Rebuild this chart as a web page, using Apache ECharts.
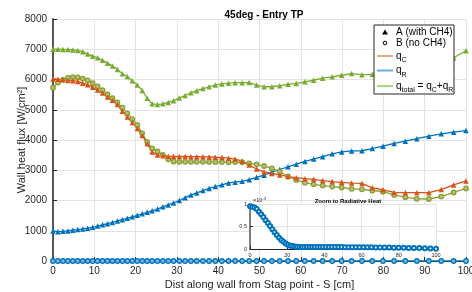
<!DOCTYPE html>
<html>
<head>
<meta charset="utf-8">
<script src="https://cdn.jsdelivr.net/npm/echarts@6/dist/echarts.min.js"></script>
<style>
  html, body { margin: 0; padding: 0; background: #fff; }
  #chart { width: 472px; height: 292px; }
</style>
</head>
<body>
<div id="chart"></div>
<script>
// distance along wall [cm]
var S = [0, 1.2, 2.4, 3.6, 4.8, 6.0, 7.2, 8.4, 9.6, 10.8, 12.0, 13.2, 14.4, 15.6, 16.8, 18.0, 19.2, 20.4, 21.6, 22.8,
  24.0, 25.3, 26.6, 27.9, 29.2, 30.6, 32.0, 33.4, 34.8, 36.3, 37.8, 39.3, 40.9, 42.5, 44.1, 45.8, 47.5, 49.3, 51.1, 53.0,
  54.9, 56.9, 58.9, 61.0, 63.1, 65.3, 67.6, 69.9, 72.3, 74.8, 77.3, 79.9, 82.6, 85.3, 88.1, 91.0, 94.0, 97.0, 100];

// A (with CH4)
var qC_A = [6020, 6010, 5990, 5970, 5960, 5935, 5880, 5825, 5745, 5650, 5550, 5420, 5310, 5170, 4950, 4760, 4580, 4380, 4150, 3880,
  3600, 3505, 3480, 3465, 3460, 3455, 3455, 3450, 3450, 3445, 3440, 3430, 3420, 3400, 3370, 3300, 3170, 3040, 2945, 2895,
  2845, 2790, 2755, 2720, 2700, 2660, 2625, 2600, 2575, 2565, 2420, 2355, 2265, 2260, 2260, 2260, 2360, 2515, 2645];
var qR_A = [990, 970, 980, 995, 1020, 1040, 1060, 1085, 1115, 1155, 1195, 1235, 1275, 1325, 1365, 1410, 1460, 1510, 1560, 1610,
  1660, 1715, 1790, 1855, 1920, 2000, 2095, 2180, 2250, 2330, 2400, 2460, 2520, 2580, 2605, 2635, 2690, 2765, 2835, 2935,
  3025, 3115, 3200, 3290, 3370, 3450, 3545, 3605, 3640, 3645, 3715, 3795, 3885, 3960, 4045, 4125, 4205, 4260, 4310];
var qT_A = [7000, 7000, 6995, 6990, 6975, 6955, 6920, 6840, 6770, 6715, 6635, 6540, 6450, 6330, 6190, 6100, 5960, 5820, 5640, 5380,
  5200, 5170, 5195, 5240, 5300, 5390, 5470, 5560, 5630, 5700, 5760, 5815, 5855, 5880, 5895, 5895, 5900, 5815, 5760, 5760,
  5795, 5840, 5870, 5925, 5975, 6045, 6090, 6140, 6195, 6160, 6170, 6220, 6300, 6360, 6400, 6430, 6530, 6720, 6950];

// B (no CH4)
var qT_B = [5730, 5900, 5990, 6055, 6080, 6070, 6030, 5970, 5880, 5770, 5645, 5510, 5380, 5240, 5070, 4880, 4690, 4500, 4220, 3940,
  3720, 3620, 3510, 3360, 3290, 3280, 3280, 3280, 3280, 3280, 3275, 3275, 3270, 3265, 3270, 3265, 3225, 3195, 3140, 3060,
  2950, 2795, 2680, 2590, 2535, 2495, 2460, 2430, 2385, 2370, 2330, 2290, 2185, 2110, 2055, 2050, 2130, 2265, 2400];
var qR_B = [0.00095, 0.00094, 0.00092, 0.00089, 0.00083, 0.00077, 0.00071, 0.00064, 0.00058, 0.00051, 0.00044, 0.00037, 0.00031, 0.00025, 0.00020, 0.00016, 0.00012, 0.000095, 0.000075, 0.000064,
  0.000056, 0.00005, 0.000047, 0.000046, 0.000045, 0.000045, 0.000045, 0.000045, 0.000045, 0.000045, 0.000045, 0.000044, 0.000044, 0.000044, 0.000043, 0.000043, 0.000042, 0.000042, 0.000041, 0.000041,
  0.00004, 0.00004, 0.00004, 0.000039, 0.000038, 0.000037, 0.000036, 0.000035, 0.000033, 0.000031, 0.00003, 0.000028, 0.000026, 0.000025, 0.000022, 0.00002, 0.000015, 0.00001, 0.000005];

var xTicks = [0, 10, 20, 30, 40, 50, 60, 70, 80, 90, 100];
var yTicks = [0, 1000, 2000, 3000, 4000, 5000, 6000, 7000, 8000];

var txtColor = "#262626", gridColor = "#e3e3e3",
  cOrange = "#d95319", cBlue = "#0072bd", cGreen = "#77ac30", cOlive = "#8c9d33",
  font = "Liberation Sans, Arial, sans-serif";

function pairs(ys){
  return S.map(function (s, i) { return [s, ys[i]]; });
}

function lineSeries(name, ys, color, symbol, fill){
  return {
    name: name, type: "line", xAxisIndex: 0, yAxisIndex: 0,
    data: pairs(ys), symbol: symbol, symbolSize: symbol === "circle" ? 4.5 : 5.5, showSymbol: true,
    lineStyle: {color: color, width: 1.3},
    itemStyle: {color: fill || color, borderColor: color, borderWidth: symbol === "circle" ? 1.3 : 0},
    animation: false, z: 2
  };
}

// legend drawn by hand (icons are marker / line samples, not data)
function legendGraphic(){
  var lx = 374, ly = 25, items = [];
  items.push({type: "rect", shape: {x: lx, y: ly, width: 80, height: 69}, style: {fill: "#fff", stroke: "#262626", lineWidth: 1}, z: 10});
  items.push({type: "polygon", shape: {points: [[385, 29.5], [388, 34.5], [382, 34.5]]}, style: {fill: "#000"}, z: 11});
  items.push({type: "circle", shape: {cx: 385, cy: 43, r: 1.8}, style: {fill: "none", stroke: "#000", lineWidth: 1}, z: 11});
  [[56, "#f0a284"], [70.5, "#6cadde"], [86, "#add67b"]].forEach(function (d) {
    items.push({type: "line", shape: {x1: 377, y1: d[0], x2: 393, y2: d[0]}, style: {stroke: d[1], lineWidth: 2}, z: 11});
  });
  var rich = {
    n: {fontSize: 10, fontFamily: font, color: txtColor, lineHeight: 14, verticalAlign: "middle"},
    s: {fontSize: 7, fontFamily: font, color: txtColor, lineHeight: 14, verticalAlign: "bottom", padding: [0, 0, -1, 0]}
  };
  var texts = [
    [32, "{n|A (with CH4)}"],
    [43, "{n|B (no CH4)}"],
    [56, "{n|q}{s|C}"],
    [70.5, "{n|q}{s|R}"],
    [86, "{n|q}{s|total}{n| = q}{s|C}{n|+q}{s|R}"]
  ];
  texts.forEach(function (t) {
    items.push({type: "text", x: 396, y: t[0], style: {text: t[1], rich: rich, verticalAlign: "middle", align: "left"}, z: 11});
  });
  // inset exponent label
  items.push({type: "text", x: 253, y: 200, style: {text: "×10{sup|-3}", verticalAlign: "middle",
    rich: {sup: {fontSize: 4, fontFamily: font, color: txtColor, verticalAlign: "top", padding: [0, 0, 3, 0]}},
    fontSize: 5.5, fontFamily: font, fill: txtColor}, z: 11});
  return items;
}

var chartDom = echarts.init(document.getElementById("chart"));

var option = {
  backgroundColor: "#fff",
  animation: false,
  textStyle: {fontFamily: font},
  title: [
    {text: "45deg - Entry TP", left: 259, top: 5, textAlign: "center",
      textStyle: {fontSize: 10, fontWeight: "bold", color: "#000", fontFamily: font}},
    {text: "Zoom to Radiative Heat", left: 343, top: 193, textAlign: "center",
      textStyle: {fontSize: 6, fontWeight: "bold", color: "#000", fontFamily: font}}
  ],
  grid: [
    {left: 53, right: 6, top: 19, bottom: 31, containLabel: false, outerBoundsMode: "none"},
    {left: 250, width: 186, top: 204, height: 45, show: true, backgroundColor: "#fff", borderWidth: 0, z: 5,
      containLabel: false, outerBoundsMode: "none"}
  ],
  xAxis: [
    {
      type: "value", gridIndex: 0, min: 0, max: 100, interval: 10,
      name: "Dist along wall from Stag point - S [cm]", nameLocation: "middle", nameGap: 18, nameMoveOverlap: false,
      nameTextStyle: {fontSize: 11, color: txtColor, fontFamily: font, verticalAlign: "top"},
      axisLine: {show: true, onZero: false, lineStyle: {color: txtColor, width: 1}},
      axisTick: {show: true, inside: true, length: 4, lineStyle: {color: txtColor}},
      axisLabel: {fontSize: 10, color: txtColor, margin: 5, fontFamily: font,
        customValues: xTicks, formatter: function (v) { return v + ""; }},
      splitLine: {show: true, lineStyle: {color: gridColor, width: 1}}
    },
    {
      type: "value", gridIndex: 1, min: 0, max: 100, interval: 20, z: 6,
      axisLine: {show: true, onZero: false, lineStyle: {color: txtColor, width: 1.2}},
      axisTick: {show: true, inside: true, length: 3, lineStyle: {color: txtColor}},
      axisLabel: {fontSize: 5.5, color: txtColor, margin: 3, fontFamily: font},
      splitLine: {show: true, lineStyle: {color: gridColor, width: 1}}
    }
  ],
  yAxis: [
    {
      type: "value", gridIndex: 0, min: 0, max: 8000, interval: 1000,
      name: "Wall heat flux [W/cm²]", nameLocation: "middle", nameGap: 31, nameRotate: 90, nameMoveOverlap: false,
      nameTextStyle: {fontSize: 11, color: txtColor, fontFamily: font, verticalAlign: "middle"},
      axisLine: {show: true, onZero: false, lineStyle: {color: "#595959", width: 2}},
      axisTick: {show: true, inside: true, length: 4, lineStyle: {color: txtColor}},
      axisLabel: {fontSize: 10, color: txtColor, margin: 6, fontFamily: font, customValues: yTicks,
        formatter: function (v) { return v + ""; }},
      splitLine: {show: true, lineStyle: {color: gridColor, width: 1}}
    },
    {
      type: "value", gridIndex: 1, min: 0, max: 0.001, interval: 0.0005, z: 6,
      axisLine: {show: true, onZero: false, lineStyle: {color: "#595959", width: 1.5}},
      axisTick: {show: true, inside: true, length: 3, lineStyle: {color: txtColor}},
      axisLabel: {fontSize: 5.5, color: txtColor, margin: 3, fontFamily: font,
        formatter: function (v) { return +(v * 1000).toFixed(1) + ""; }},
      splitLine: {show: true, lineStyle: {color: gridColor, width: 1}}
    }
  ],
  graphic: legendGraphic(),
  series: [
    lineSeries("q_R B", qR_B, cBlue, "circle", "#7fb6dc"),
    lineSeries("q_R A", qR_A, cBlue, "triangle"),
    lineSeries("q_total B", qT_B, cOlive, "circle", "#b5c27a"),
    lineSeries("q_C A", qC_A, cOrange, "triangle"),
    lineSeries("q_total A", qT_A, cGreen, "triangle"),
    {
      name: "q_R B zoom", type: "line", xAxisIndex: 1, yAxisIndex: 1, data: pairs(qR_B),
      symbol: "emptyCircle", symbolSize: 4, lineStyle: {color: cBlue, width: 1},
      itemStyle: {color: cBlue, borderColor: cBlue, borderWidth: 1}, z: 7, animation: false
    }
  ]
};

chartDom.setOption(option);
</script>
</body>
</html>
